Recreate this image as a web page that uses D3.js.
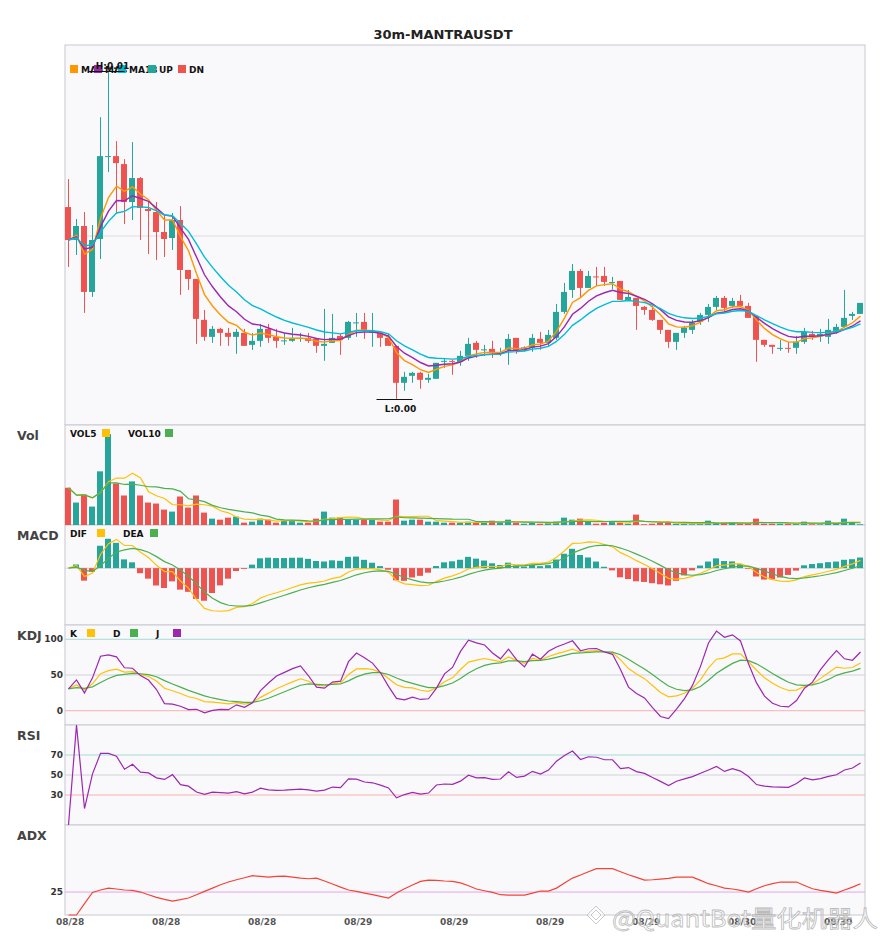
<!DOCTYPE html>
<html lang="en">
<head>
<meta charset="UTF-8">
<title>30m-MANTRAUSDT</title>
<script src="https://cdn.jsdelivr.net/npm/d3@7"></script>
<style>
  body { margin: 0; background: #fff; }
  svg { font-family: "DejaVu Sans", sans-serif; }
  .bold { font-weight: bold; }
</style>
</head>
<body>
<svg id="chart" width="885" height="950"></svg>
<script>
// OHLC, price in units of 1e-5 USDT
const opens  = [558,492,520,388,494,658,660,644,568,616, 554,548,508,496,532,432,414,332,298,314,
                306,298,306,282,290,314,298,290,290,294, 296,294,280,286,300,296,326,328,307,306,
                296,280,206,220,226,212,214,248,250,248, 260,286,272,274,266,272,296,273,276,294,
                286,296,348,392,430,396,419,420,407,410, 372,376,358,352,332,312,288,306,312,328,
                342,358,376,360,370,360,340,292,282,275, 276,276,288,304,300,298,310,318,340,344];
const highs  = [614,534,548,522,738,830,690,654,688,618, 568,568,540,546,560,432,414,352,320,316,
                316,314,314,306,324,324,314,306,316,306, 306,296,354,344,304,330,346,346,346,306,
                304,280,228,228,228,224,246,256,252,270, 296,290,282,290,276,304,296,279,304,308,
                312,364,406,444,434,430,438,438,418,410, 392,376,360,360,332,312,306,320,332,346,
                364,380,380,376,382,366,340,292,282,292, 288,300,316,310,314,334,324,392,348,366];
const lows   = [438,462,346,378,454,628,546,524,532,492, 464,452,458,472,382,392,284,290,286,280,
                280,264,280,272,278,286,276,282,288,288, 286,266,250,286,262,292,298,294,278,278,
                280,174,190,206,194,206,214,236,222,240, 250,256,260,256,260,242,264,269,268,272,
                280,292,344,376,376,396,400,400,394,372, 370,312,342,330,304,276,272,296,304,322,
                328,352,348,356,358,336,248,278,264,270, 266,264,284,292,288,284,304,316,332,344];
const closes = [492,520,388,492,660,660,646,568,616,556, 550,508,494,532,432,414,334,298,314,306,
                298,308,280,290,314,296,290,291,294,296, 290,280,284,296,292,328,327,312,308,296,
                280,206,218,226,212,216,246,250,248,260, 284,272,273,266,267,294,272,277,296,286,
                302,348,388,430,396,420,418,408,408,372, 378,360,352,332,312,288,306,316,326,342,
                358,376,356,370,360,336,292,282,278,276, 275,288,308,300,304,312,318,336,344,366];
const volumes = [370,223,303,183,533,903,413,293,433,293, 223,213,153,133,283,173,293,123,63,53,
                 73,83,23,33,63,53,23,43,43,23, 23,63,133,73,73,53,53,53,53,33,
                 33,253,43,53,53,33,33,23,23,23, 33,23,33,43,23,53,23,13,23,13,
                 23,33,73,53,63,33,13,23,33,23, 13,103,7,13,23,23,13,13,7,13,
                 43,23,23,23,13,13,63,13,13,13, 13,13,33,7,7,43,13,63,23,7];
// ADX
const adxVals = [0,0,12.3,24.6,27.2,29.3,28.3,27.2,26.8,25, 22.1,19.2,17,15.2,16.7,18.5,22.1,25.7,29.3,33,
                 35.9,38.4,40.6,42.8,42,41.3,42,42.4,41.3,40.2, 39.5,40.2,37,33.7,30.4,27.2,25.7,23.9,22.1,20.3,
                 18.5,23.9,28.6,32.6,36.6,38,37.7,37,36.6,35, 31.9,28.3,26.4,24.6,22.1,21.7,21.7,21.7,23.9,26.1,
                 26.1,29.3,34.8,40.2,43.5,47.1,50.4,50.4,50.4,47.1, 43.8,40.9,38,38.4,39.1,39.9,41.3,41.3,41.3,37.7,
                 34.1,31.9,29.3,28.3,26.8,25,28.6,31.9,34.1,35.9, 35.9,35.9,32.2,28.6,26.8,25.4,23.9,27.2,30.4,34.1];
const tickIdx = [0.2,12.2,24.2,36.2,48.2,60.2,72.2,84.2,96.2];
const tickLabels = ['08/28','08/28','08/28','08/29','08/29','08/29','08/29','08/30','08/30'];
const maPeriods = [5,8,13];
const maNames = ['MA5','MA8','MA13'];
const macdParams = [6,13,5];

const UP = '#26a69a', DN = '#ef5350';
const ORANGE = '#ff9800', PURPLE = '#9c27b0', CYAN = '#00bcd4';
const YEL = '#ffc107', GRN = '#4caf50';

// indicator helpers
function ema(arr, n) {
  const a = 2 / (n + 1), out = [];
  arr.forEach((v, i) => out.push(i === 0 ? v : out[i - 1] + a * (v - out[i - 1])));
  return out;
}
function ewmAdj(arr, alpha) {
  let num = 0, den = 0;
  return arr.map(v => { num = v + (1 - alpha) * num; den = 1 + (1 - alpha) * den; return num / den; });
}
function sma(arr, n) {
  return arr.map((v, i) => d3.mean(arr.slice(Math.max(0, i - n + 1), i + 1)));
}

const n = closes.length;
const idx = d3.range(n);
const maLines = maPeriods.map(p => ema(closes, p));
const vol5 = sma(volumes, 5), vol10 = sma(volumes, 10);
const eFast = ema(closes, macdParams[0]), eSlow = ema(closes, macdParams[1]);
const dif = eFast.map((v, i) => v - eSlow[i]);
const dea = ema(dif, macdParams[2]);
const hist = dif.map((v, i) => 2 * (v - dea[i]));

const rsv = closes.map((c, i) => {
  const lo = d3.min(lows.slice(Math.max(0, i - 8), i + 1));
  const hi = d3.max(highs.slice(Math.max(0, i - 8), i + 1));
  return hi === lo ? 50 : (c - lo) / (hi - lo) * 100;
});
const kv = [], dv = [];
rsv.forEach((r, i) => {
  kv.push(i === 0 ? r : kv[i - 1] * 2 / 3 + r / 3);
  dv.push(i === 0 ? kv[0] : dv[i - 1] * 2 / 3 + kv[i] / 3);
});
const jv = kv.map((k, i) => 3 * k - 2 * dv[i]);

const diffs = closes.slice(1).map((c, i) => c - closes[i]);
const avgG = ewmAdj(diffs.map(d => Math.max(d, 0)), 1 / 14);
const avgL = ewmAdj(diffs.map(d => Math.max(-d, 0)), 1 / 14);
const rsi = [0].concat(avgG.map((g, i) => g + avgL[i] === 0 ? 50 : g / (g + avgL[i]) * 100));

// layout
const svg = d3.select('#chart');
const X0 = 65, X1 = 865;
const panels = {main: [45, 425], vol: [425, 525], macd: [525, 625], kdj: [625, 725], rsi: [725, 825], adx: [825, 915]};

const x = d3.scaleBand().domain(idx).range([X0, X1]);
const bw = x.bandwidth() * 0.75;
const cx = i => x(i) + bw / 2 + 0.5;
const xt = d3.scaleLinear().domain([0, n - 1]).range([cx(0), cx(n - 1)]);
const colOf = i => closes[i] >= opens[i] ? UP : DN;

// panel backgrounds
Object.values(panels).forEach(([t, b]) => {
  svg.append('rect').attr('x', X0).attr('y', t).attr('width', X1 - X0).attr('height', b - t)
    .attr('fill', '#f9f9fb').attr('stroke', '#c8c8d0').attr('stroke-width', 1);
});

// title
svg.append('text').attr('class', 'bold').attr('x', 443).attr('y', 39).attr('text-anchor', 'middle')
  .attr('font-size', 13).attr('fill', '#222').text('30m-MANTRAUSDT');

// panel names
[['Vol', 'vol'], ['MACD', 'macd'], ['KDJ', 'kdj'], ['RSI', 'rsi'], ['ADX', 'adx']].forEach(([t, k]) => {
  svg.append('text').attr('class', 'bold').attr('x', 17).attr('y', panels[k][0] + 15)
    .attr('font-size', 12.5).attr('fill', '#444').text(t);
});

function lineOf(vals, ys) {
  return d3.line().x((d, i) => cx(i)).y(d => ys(d))(vals);
}

// ---- main candles
const lo = d3.min(lows), hi = d3.max(highs), pad = (hi - lo) * 0.08;
const yMain = d3.scaleLinear().domain([lo - pad, hi + pad]).range(panels.main.slice().reverse());
const gMain = svg.append('g');
gMain.selectAll('line.grid').data(yMain.ticks(2)).join('line').attr('class', 'grid')
  .attr('x1', X0).attr('x2', X1).attr('y1', d => yMain(d)).attr('y2', d => yMain(d))
  .attr('stroke', '#dcdce2');
gMain.selectAll('line.wick').data(idx).join('line').attr('class', 'wick')
  .attr('x1', cx).attr('x2', cx)
  .attr('y1', i => yMain(highs[i])).attr('y2', i => yMain(lows[i]))
  .attr('stroke', colOf).attr('stroke-width', 1);
gMain.selectAll('rect.body').data(idx).join('rect').attr('class', 'body')
  .attr('x', i => x(i)).attr('width', bw)
  .attr('y', i => yMain(Math.max(opens[i], closes[i])))
  .attr('height', i => Math.max(1, Math.abs(yMain(opens[i]) - yMain(closes[i]))))
  .attr('fill', colOf);
[ORANGE, PURPLE, CYAN].forEach((c, k) => {
  gMain.append('path').attr('d', lineOf(maLines[k], yMain)).attr('fill', 'none')
    .attr('stroke', c).attr('stroke-width', 1.4);
});

// main legend
const legItems = [[maNames[0], ORANGE], [maNames[1], PURPLE], [maNames[2], CYAN], ['UP', UP], ['DN', DN]];
const legOff = [0, 24, 48, 78, 108];
legItems.forEach(([t, c], k) => {
  const lx = 70 + legOff[k];
  svg.append('rect').attr('x', lx).attr('y', 65).attr('width', 8).attr('height', 8).attr('fill', c);
  svg.append('text').attr('class', 'bold').attr('x', lx + 11).attr('y', 72.5)
    .attr('font-size', 9).attr('fill', '#111').text(t);
});

// high / low markers
const iHi = d3.maxIndex(highs), iLo = d3.minIndex(lows);
[[iHi, highs[iHi], 'H', -3], [iLo, lows[iLo], 'L', 12]].forEach(([i, v, t, dy]) => {
  const yy = Math.round(yMain(v)) + 0.5;
  svg.append('line').attr('x1', cx(i) - 20).attr('x2', cx(i) + 16).attr('y1', yy).attr('y2', yy)
    .attr('stroke', '#111').attr('stroke-width', 1);
  svg.append('text').attr('class', 'bold').attr('x', cx(i) + 4).attr('y', yy + dy)
    .attr('text-anchor', 'middle').attr('font-size', 9).attr('fill', '#111')
    .text(t + ':' + (v * 1e-5).toFixed(2));
});

// ---- volume
const yVol = d3.scaleLinear().domain([0, d3.max(volumes) * 1.1]).range(panels.vol.slice().reverse());
svg.append('g').selectAll('rect').data(idx).join('rect')
  .attr('x', i => x(i)).attr('width', bw)
  .attr('y', i => yVol(volumes[i])).attr('height', i => yVol(0) - yVol(volumes[i]))
  .attr('fill', colOf);
[[vol5, YEL], [vol10, GRN]].forEach(([v, c]) => {
  svg.append('path').attr('d', lineOf(v, yVol)).attr('fill', 'none').attr('stroke', c).attr('stroke-width', 1.2);
});

// ---- MACD
const mAll = dif.concat(dea, hist);
const mMin = d3.min(mAll), mMax = d3.max(mAll), mPad = (mMax - mMin) * 0.19;
const yMacd = d3.scaleLinear().domain([mMin - mPad, mMax + mPad]).range(panels.macd.slice().reverse());
svg.append('line').attr('x1', X0).attr('x2', X1).attr('y1', yMacd(0)).attr('y2', yMacd(0)).attr('stroke', '#d0d0d6');
svg.append('g').selectAll('rect').data(idx).join('rect')
  .attr('x', i => x(i)).attr('width', bw)
  .attr('y', i => yMacd(Math.max(0, hist[i])))
  .attr('height', i => Math.abs(yMacd(hist[i]) - yMacd(0)))
  .attr('fill', i => hist[i] >= 0 ? UP : DN);
[[dif, YEL], [dea, GRN]].forEach(([v, c]) => {
  svg.append('path').attr('d', lineOf(v, yMacd)).attr('fill', 'none').attr('stroke', c).attr('stroke-width', 1.2);
});

// ---- guide lines + labels for bounded oscillators
const guideCols = ['#a6dbd6', '#d2d2d8', '#f7b0b0'];
function guides(ys, vals, cols) {
  vals.forEach((v, k) => {
    svg.append('line').attr('x1', X0).attr('x2', X1).attr('y1', ys(v)).attr('y2', ys(v)).attr('stroke', cols[k]);
    svg.append('text').attr('class', 'bold').attr('x', 63).attr('y', ys(v)).attr('dy', '0.35em')
      .attr('text-anchor', 'end').attr('font-size', 9).attr('fill', '#333').text(v);
  });
}

// ---- KDJ
const yKdj = d3.scaleLinear().domain([-20, 120]).range(panels.kdj.slice().reverse());
guides(yKdj, [100, 50, 0], guideCols);
[[kv, YEL], [dv, GRN], [jv, PURPLE]].forEach(([v, c]) => {
  svg.append('path').attr('d', lineOf(v, yKdj)).attr('fill', 'none').attr('stroke', c).attr('stroke-width', 1.2);
});

// ---- RSI
const yRsi = d3.scaleLinear().domain([0, 100]).range(panels.rsi.slice().reverse());
guides(yRsi, [70, 50, 30], guideCols);
svg.append('path').attr('d', lineOf(rsi, yRsi)).attr('fill', 'none').attr('stroke', PURPLE).attr('stroke-width', 1.2);

// ---- ADX
const yAdx = d3.scaleLinear().domain([0, 98]).range(panels.adx.slice().reverse());
guides(yAdx, [25], ['#e2a8ea']);
svg.append('path').attr('d', lineOf(adxVals, yAdx)).attr('fill', 'none').attr('stroke', '#f44336').attr('stroke-width', 1.2);

// ---- small legends
function smallLegend(y, items) {
  let lx = 70;
  items.forEach(([t, c]) => {
    svg.append('text').attr('class', 'bold').attr('x', lx).attr('y', y).attr('font-size', 9).attr('fill', '#111').text(t);
    const sx = lx + 12 + 5 * t.length;
    svg.append('rect').attr('x', sx).attr('y', y - 8).attr('width', 8).attr('height', 8).attr('fill', c);
    lx = sx + 26;
  });
}
smallLegend(437, [['VOL5', YEL], ['VOL10', GRN]]);
smallLegend(537, [['DIF', YEL], ['DEA', GRN]]);
smallLegend(637, [['K', YEL], ['D', GRN], ['J', PURPLE]]);

// ---- x axis labels
svg.append('g').selectAll('text').data(tickIdx).join('text').attr('class', 'bold')
  .attr('x', d => xt(d)).attr('y', 925).attr('text-anchor', 'middle')
  .attr('font-size', 9).attr('fill', '#555').text((d, k) => tickLabels[k]);

// watermark overlay (sits over the last axis labels, as in the source image)
const wm = svg.append('g').attr('fill', 'rgba(255,255,255,0.55)')
  .attr('stroke', 'rgba(160,160,160,0.7)').attr('stroke-width', 0.8);
[9, 5].forEach(r => {
  wm.append('path').attr('d', `M596,${915 - r}L${596 + r},915L596,${915 + r}L${596 - r},915Z`);
});
wm.append('text').attr('x', 612).attr('y', 927).attr('font-size', 23)
  .attr('font-family', '"Noto Sans CJK SC", sans-serif')
  .attr('textLength', 266).attr('lengthAdjust', 'spacingAndGlyphs')
  .text('@QuantBot量化机器人');
</script>
</body>
</html>
